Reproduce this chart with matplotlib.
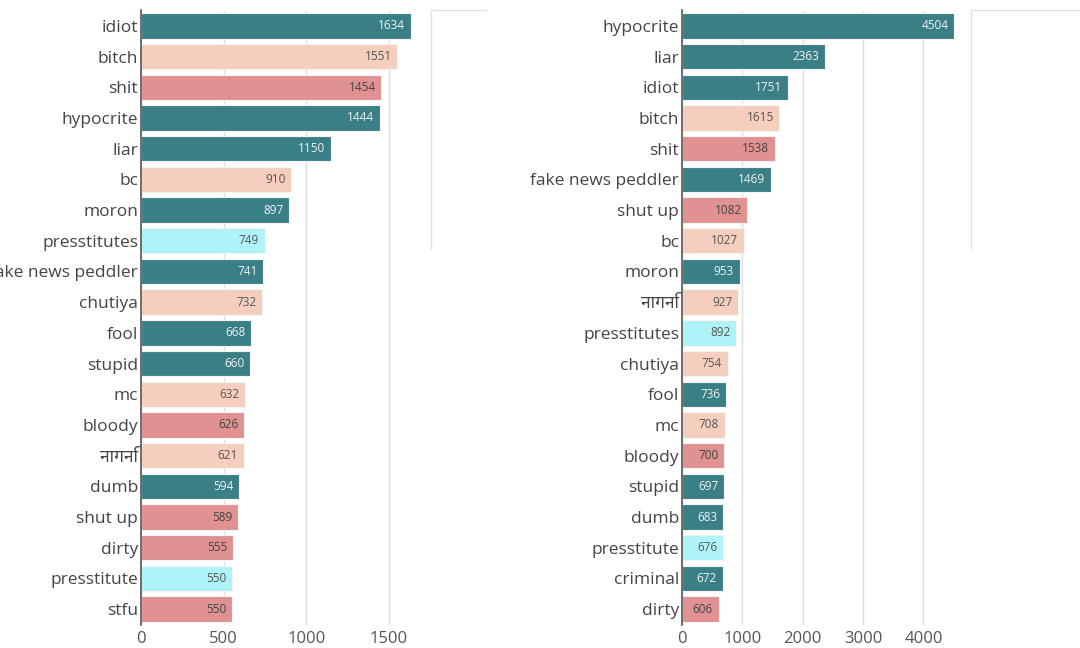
import matplotlib
matplotlib.use("Agg")
import matplotlib.pyplot as plt
from matplotlib.lines import Line2D

plt.rcParams['font.family'] = ['Open Sans', 'Noto Sans', 'DejaVu Sans']

# left panel
left_terms = ['idiot', 'bitch', 'shit', 'hypocrite', 'liar', 'bc', 'moron', 'presstitutes',
              'fake news peddler', 'chutiya', 'fool', 'stupid', 'mc', 'bloody', 'नागनि',
              'dumb', 'shut up', 'dirty', 'presstitute', 'stfu']
left_counts = [1634, 1551, 1454, 1444, 1150, 910, 897, 749, 741, 732, 668, 660, 632, 626,
               621, 594, 589, 555, 550, 550]
left_groups = ['insult', 'slang', 'profane', 'insult', 'insult', 'slang', 'insult', 'press',
               'insult', 'slang', 'insult', 'insult', 'slang', 'profane', 'slang',
               'insult', 'profane', 'profane', 'press', 'profane']

# right panel
right_terms = ['hypocrite', 'liar', 'idiot', 'bitch', 'shit', 'fake news peddler', 'shut up',
               'bc', 'moron', 'नागनि', 'presstitutes', 'chutiya', 'fool', 'mc', 'bloody',
               'stupid', 'dumb', 'presstitute', 'criminal', 'dirty']
right_counts = [4504, 2363, 1751, 1615, 1538, 1469, 1082, 1027, 953, 927, 892, 754, 736,
                708, 700, 697, 683, 676, 672, 606]
right_groups = ['insult', 'insult', 'insult', 'slang', 'profane', 'insult', 'profane',
                'slang', 'insult', 'slang', 'press', 'slang', 'insult', 'slang', 'profane',
                'insult', 'insult', 'press', 'insult', 'profane']

colors = {'insult': '#3b7f86', 'slang': '#f5cebd', 'profane': '#e09191', 'press': '#aff2f7'}
text_colors = {'insult': '#f2f2f2', 'slang': '#555555', 'profane': '#444444', 'press': '#555555'}

W, H = 1080, 648
fig = plt.figure(figsize=(10.8, 6.48), dpi=100)


def panel(rect, terms, counts, groups, xmax, ticks):
    ax = fig.add_axes(rect)
    y = list(range(len(terms)))
    ax.barh(y, counts, height=0.83, color=[colors[g] for g in groups],
            edgecolor='#f4f4f4', linewidth=0.8, zorder=2)
    for yi, c, g in zip(y, counts, groups):
        ax.annotate(str(c), (c, yi), xytext=(-4, 0), textcoords='offset points',
                    ha='right', va='center', fontsize=8.5, color=text_colors[g], zorder=3)
    ax.set_ylim(len(terms) - 0.5, -0.5)
    ax.set_xlim(0, xmax)
    ax.set_yticks(y)
    ax.set_yticklabels(terms, fontsize=12.5, color='#444444')
    ax.set_xticks(ticks)
    ax.set_xticklabels([str(t) for t in ticks], fontsize=12, color='#555555')
    ax.tick_params(axis='both', length=0)
    ax.tick_params(axis='y', pad=2)
    ax.tick_params(axis='x', pad=5)
    ax.grid(axis='x', color='#e0e0e0', linewidth=1, zorder=0)
    ax.set_axisbelow(True)
    for s in ['top', 'right', 'bottom']:
        ax.spines[s].set_visible(False)
    ax.spines['left'].set_color('#555555')
    ax.spines['left'].set_linewidth(1.2)
    return ax


top, bot = 10.5, 624.5
panel([141 / W, (H - bot) / H, 1700 * 0.1652 / W, (bot - top) / H],
      left_terms, left_counts, left_groups, 1700, [0, 500, 1000, 1500])
panel([682 / W, (H - bot) / H, 4650 * 0.06035 / W, (bot - top) / H],
      right_terms, right_counts, right_groups, 4650, [0, 1000, 2000, 3000, 4000])

# empty legend frames cut off at the right of each panel
for x0, x1 in [(431, 486), (971, 1080)]:
    fig.add_artist(Line2D([x0 / W, x0 / W], [1 - 10 / H, 1 - 249 / H],
                          transform=fig.transFigure, color='#e2e2e2', linewidth=1))
    fig.add_artist(Line2D([x0 / W, x1 / W], [1 - 10 / H, 1 - 10 / H],
                          transform=fig.transFigure, color='#e2e2e2', linewidth=1))

fig.savefig('out.png', dpi=100)
